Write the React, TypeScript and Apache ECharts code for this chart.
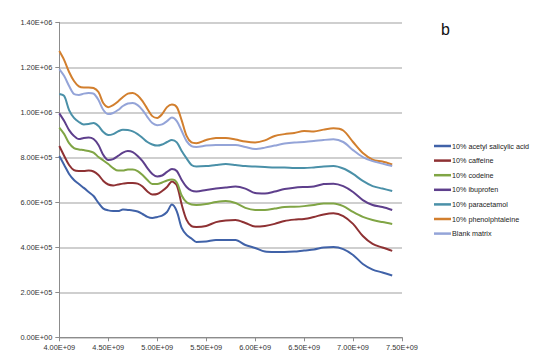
import React, { useEffect, useRef } from "react";
import * as echarts from "echarts";

// Frequency (x values), in units of 1e9
const freqG = [4.00,4.05,4.10,4.15,4.20,4.25,4.30,4.35,4.40,4.45,4.50,4.55,4.60,4.65,4.70,4.75,4.80,4.85,4.90,4.95,5.00,5.05,5.10,5.15,5.20,5.25,5.30,5.35,5.40,5.50,5.60,5.70,5.80,5.90,6.00,6.10,6.20,6.30,6.40,6.50,6.60,6.70,6.80,6.90,7.00,7.10,7.20,7.30,7.40];

// Series values, in thousands
const acetylK = [806,766,726,699,681,664,646,628,597,572,564,561,561,568,566,564,559,548,535,530,535,541,557,590,560,486,455,439,424,426,432,432,432,410,397,381,379,379,381,386,390,399,401,392,366,326,301,288,275];
const caffeineK = [850,806,766,743,739,739,741,737,721,695,679,675,679,683,686,686,683,670,648,635,637,650,668,692,675,590,522,494,490,495,512,519,521,508,492,495,504,517,523,526,535,546,551,539,504,450,415,399,384];
const codeineK = [932,903,863,841,835,832,828,821,801,786,770,752,741,741,746,746,739,721,699,681,681,688,697,701,688,630,600,590,588,592,601,606,597,575,566,566,572,579,580,583,588,595,595,583,557,535,521,512,504];
const ibuprofenK = [995,961,921,895,881,886,888,881,855,810,788,792,806,821,828,823,806,783,752,726,715,719,735,748,739,699,668,652,648,655,661,666,670,661,641,639,648,659,665,668,670,681,683,672,646,610,588,579,566];
const paracetamolK = [1081,1072,1010,975,957,946,948,952,939,912,899,903,915,923,921,915,903,886,868,857,852,857,868,877,866,828,795,766,759,761,766,770,766,761,759,757,755,755,752,752,755,759,761,750,726,695,672,661,650];
const phenolK = [1272,1232,1179,1139,1115,1110,1110,1108,1090,1040,1023,1032,1048,1068,1083,1086,1075,1050,1015,983,975,992,1023,1035,1023,964,895,866,863,877,886,886,879,870,866,875,895,903,908,917,915,923,929,919,868,819,790,781,768];
const blankK = [1192,1161,1117,1081,1077,1083,1086,1083,1055,1010,992,997,1010,1028,1039,1041,1032,1010,979,952,943,946,961,977,961,917,872,850,846,852,855,855,855,846,837,843,852,861,866,868,872,877,880,868,832,801,783,772,761];

const seriesNames = [
  "10% acetyl salicylic acid",
  "10% caffeine",
  "10% codeine",
  "10% ibuprofen",
  "10% paracetamol",
  "10% phenolphtaleine",
  "Blank matrix",
];
const seriesValues = [acetylK, caffeineK, codeineK, ibuprofenK, paracetamolK, phenolK, blankK];
const seriesColors = ["#4062A8", "#8E3133", "#80A545", "#5E3F8C", "#4A90A8", "#D27F2E", "#94A4D8"];

const fmtExp = (v: number) => {
  const [m, e] = v.toExponential(2).split("e");
  const sign = e[0] === "-" ? "-" : "+";
  const digits = e.replace(/^[+-]/, "").padStart(2, "0");
  return `${m}E${sign}${digits}`;
};

const FONT = "Liberation Sans";

export default function App() {
  const ref = useRef<HTMLDivElement>(null);
  useEffect(() => {
    if (!ref.current) return;
    const chart = echarts.init(ref.current, undefined, { renderer: "svg" });
    chart.setOption({
      animation: false,
      backgroundColor: "#ffffff",
      grid: { left: 59.3, right: 153, top: 22.3, bottom: 23.7, containLabel: false },
      xAxis: {
        type: "value",
        min: 4e9,
        max: 7.5e9,
        interval: 0.5e9,
        axisLine: { show: true, lineStyle: { color: "#8c8c8c", width: 1 } },
        axisTick: { show: true, length: 4, lineStyle: { color: "#8c8c8c" } },
        splitLine: { show: false },
        axisLabel: {
          formatter: (v: number) => fmtExp(v),
          fontSize: 7.4,
          fontFamily: FONT,
          color: "#333",
          margin: 7,
        },
      },
      yAxis: {
        type: "value",
        min: 0,
        max: 1.4e6,
        interval: 2e5,
        axisLine: { show: true, lineStyle: { color: "#8c8c8c", width: 1 } },
        axisTick: { show: true, length: 4, lineStyle: { color: "#8c8c8c" } },
        splitLine: { show: true, lineStyle: { color: "#bfbfbf", width: 1.5 } },
        axisLabel: {
          formatter: (v: number) => fmtExp(v),
          fontSize: 7.4,
          fontFamily: FONT,
          color: "#333",
          margin: 7,
        },
      },
      legend: {
        orient: "vertical",
        left: 429,
        top: 136,
        itemWidth: 17,
        itemHeight: 2.5,
        itemGap: 4.6,
        icon: "rect",
        data: seriesNames,
        textStyle: {
          fontSize: 7.2,
          fontFamily: FONT,
          color: "#222",
          lineHeight: 10,
          padding: [0, 0, 0, -4],
        },
      },
      graphic: [
        {
          type: "text",
          left: 441,
          top: 21,
          style: { text: "b", fontSize: 16, fontWeight: "normal", fontFamily: FONT, fill: "#111" },
        },
      ],
      series: seriesNames.map((name, i) => ({
        name,
        type: "line",
        smooth: 0.3,
        showSymbol: false,
        symbol: "none",
        color: seriesColors[i],
        lineStyle: { width: 2, color: seriesColors[i] },
        data: freqG.map((f, j) => [f * 1e9, seriesValues[i][j] * 1000]),
      })),
    });
    return () => chart.dispose();
  }, []);
  return (
    <div
      ref={ref}
      style={{ position: "fixed", left: 0, top: 0, width: 555, height: 361, background: "#fff" }}
    />
  );
}
